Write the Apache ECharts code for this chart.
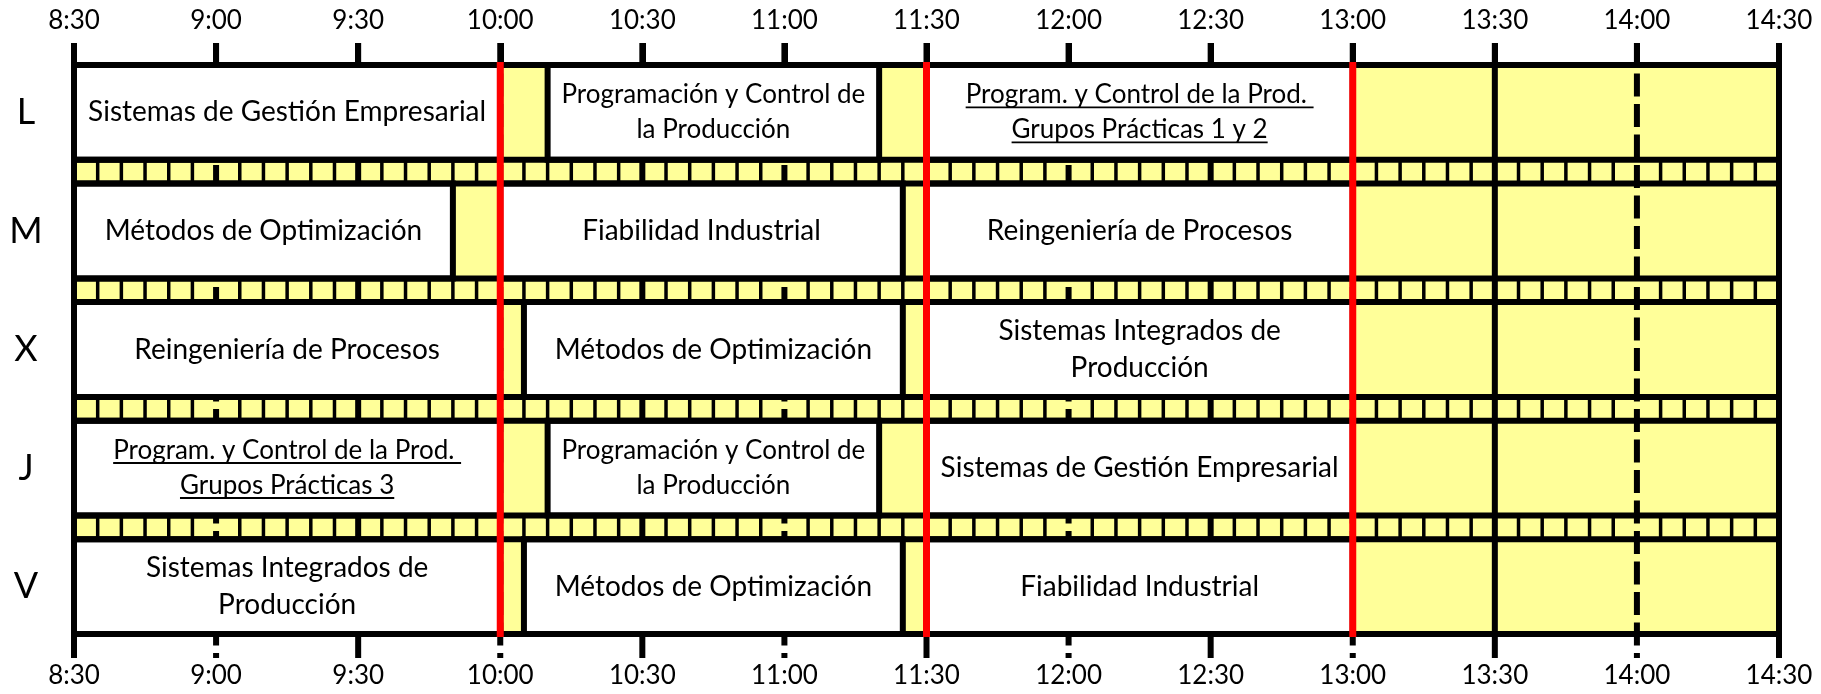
<!DOCTYPE html>
<html>
<head>
<meta charset="utf-8">
<script src="https://cdn.jsdelivr.net/npm/echarts@6/dist/echarts.min.js"></script>
<style>
html,body{margin:0;padding:0;background:#fff;}
#chart{width:1821px;height:694px;}
</style>
</head>
<body>
<div id="chart"></div>
<script>
// ---------------- data ----------------
const days = ['L', 'M', 'X', 'J', 'V'];
const tickLabels = ['8:30','9:00','9:30','10:00','10:30','11:00','11:30','12:00','12:30','13:00','13:30','14:00','14:30'];
const breakTimes = ['10:00', '11:30', '13:00'];
const slotMinutes = 5;

const courseDay   = ['L','L','L', 'M','M','M', 'X','X','X', 'J','J','J', 'V','V','V'];
const courseStart = ['8:30','10:10','11:30', '8:30','10:00','11:30', '8:30','10:05','11:30', '8:30','10:10','11:30', '8:30','10:05','11:30'];
const courseEnd   = ['10:00','11:20','13:00', '9:50','11:25','13:00', '10:00','11:25','13:00', '10:00','11:20','13:00', '10:00','11:25','13:00'];
const courseTitle = [
  'Sistemas de Gestión Empresarial',
  'Programación y Control de\nla Producción',
  'Program. y Control de la Prod. \nGrupos Prácticas 1 y 2',
  'Métodos de Optimización',
  'Fiabilidad Industrial',
  'Reingeniería de Procesos',
  'Reingeniería de Procesos',
  'Métodos de Optimización',
  'Sistemas Integrados de\nProducción',
  'Program. y Control de la Prod. \nGrupos Prácticas 3',
  'Programación y Control de\nla Producción',
  'Sistemas de Gestión Empresarial',
  'Sistemas Integrados de\nProducción',
  'Métodos de Optimización',
  'Fiabilidad Industrial'
];
const courseUnderlined = [false,false,true, false,false,false, false,false,false, true,false,false, false,false,false];

// ---------------- helpers / layout ----------------
const toMin = s => { const p = s.split(':'); return (+p[0]) * 60 + (+p[1]); };
const xMin = toMin(tickLabels[0]);
const xMax = toMin(tickLabels[tickLabels.length - 1]);
const tickStep = toMin(tickLabels[1]) - xMin;
const ROW_U = 4, GAP_U = 1, PITCH = ROW_U + GAP_U;
const yMax = days.length * PITCH - GAP_U;
const rowCenters = days.map((d, i) => i * PITCH + ROW_U / 2);

const FONT = 'Lato';
const TXT_BIG = 28, TXT_SMALL = 26;
const LW = 6;
const YELLOW = '#ffff99';
const measureCtx = document.createElement('canvas').getContext('2d');
function textWidth(t, size) { measureCtx.font = size + 'px ' + FONT; return measureCtx.measureText(t).width; }
function courseFont(i) {
  return (courseUnderlined[i] || courseTitle[i].indexOf('Programación') === 0) ? TXT_SMALL : TXT_BIG;
}

const chart = echarts.init(document.getElementById('chart'), null, {renderer: 'canvas'});

function lineEl(x1, y1, x2, y2, style) {
  return {type: 'line', shape: {x1, y1, x2, y2}, style: Object.assign({stroke: '#000', lineWidth: LW, lineCap: 'butt'}, style || {})};
}

const courseData = courseTitle.map((t, i) => [toMin(courseStart[i]), toMin(courseEnd[i]), days.indexOf(courseDay[i])]);
const gridData = tickLabels.map((t, i) => [toMin(t), i % 2]);
const bandData = days.slice(0, -1).map((d, i) => [i]);
const breakData = breakTimes.map(t => [toMin(t)]);

const option = {
  backgroundColor: '#fff',
  animation: false,
  grid: {left: 74, right: 42, top: 65, bottom: 60, containLabel: false, outerBoundsMode: 'none'},
  xAxis: [
    {
      type: 'value', position: 'top', min: xMin, max: xMax, interval: tickStep,
      axisLine: {show: false}, splitLine: {show: false},
      axisTick: {show: true, length: 22, lineStyle: {color: '#000', width: LW}},
      axisLabel: {
        formatter: v => tickLabels[Math.round((v - xMin) / tickStep)],
        fontFamily: FONT, fontSize: 26, color: '#000', margin: 44, verticalAlign: 'middle'
      }
    },
    {
      type: 'value', position: 'bottom', min: xMin, max: xMax, interval: tickStep,
      axisLine: {show: false}, splitLine: {show: false}, axisTick: {show: false},
      axisLabel: {
        formatter: v => tickLabels[Math.round((v - xMin) / tickStep)],
        fontFamily: FONT, fontSize: 26, color: '#000', margin: 42, verticalAlign: 'middle'
      }
    }
  ],
  yAxis: {
    type: 'value', min: 0, max: yMax, inverse: true,
    axisLine: {show: false}, axisTick: {show: false}, splitLine: {show: false},
    axisLabel: {
      customValues: rowCenters,
      formatter: v => days[Math.round((v - ROW_U / 2) / PITCH)],
      fontFamily: FONT, fontSize: 36, color: '#000', margin: 48, align: 'center', verticalAlign: 'middle'
    }
  },
  series: [
    { // yellow background
      type: 'custom', z: 1, clip: false, data: [[0]],
      renderItem: (params, api) => {
        const a = api.coord([xMin, 0]), b = api.coord([xMax, yMax]);
        return {type: 'rect', shape: {x: a[0], y: a[1], width: b[0] - a[0], height: b[1] - a[1]}, style: {fill: YELLOW}};
      }
    },
    { // 5-minute separators in the bands between days
      type: 'custom', z: 2, clip: false, data: bandData,
      renderItem: (params, api) => {
        const b = api.value(0);
        const y0 = b * PITCH + ROW_U, y1 = y0 + GAP_U;
        const children = [];
        for (let m = xMin + slotMinutes; m < xMax; m += slotMinutes) {
          if ((m - xMin) % tickStep === 0) continue;
          const p = api.coord([m, y0]), q = api.coord([m, y1]);
          children.push(lineEl(p[0], p[1], q[0], q[1], {lineWidth: 3.5}));
        }
        return {type: 'group', children};
      }
    },
    { // half-hour (solid) and hour (dashed) lines
      type: 'custom', z: 3, clip: false, data: gridData,
      renderItem: (params, api) => {
        const x = api.value(0), dashed = api.value(1) === 1;
        const p = api.coord([x, 0]), q = api.coord([x, yMax]);
        const st = dashed ? {lineDash: [23, 7.5]} : {};
        return lineEl(p[0], p[1] - 22, q[0], q[1] + 24, st);
      }
    },
    { // courses
      type: 'custom', z: 4, clip: false, data: courseData,
      renderItem: (params, api) => {
        const i = params.dataIndex;
        const s = api.value(0), e = api.value(1), r = api.value(2);
        const a = api.coord([s, r * PITCH]), b = api.coord([e, r * PITCH + ROW_U]);
        const cx = (a[0] + b[0]) / 2, cy = (a[1] + b[1]) / 2;
        const fs = courseFont(i);
        const lh = Math.round(fs * 1.33);
        const children = [{
          type: 'rect', shape: {x: a[0], y: a[1], width: b[0] - a[0], height: b[1] - a[1]},
          style: {fill: '#fff', stroke: '#000', lineWidth: LW}
        }, {
          type: 'text',
          style: {
            text: courseTitle[i], x: cx, y: cy,
            align: 'center', verticalAlign: 'middle', textAlign: 'center', textVerticalAlign: 'middle',
            fontFamily: FONT, fontSize: fs, lineHeight: lh, fill: '#000'
          }
        }];
        if (courseUnderlined[i]) {
          const lines = courseTitle[i].split('\n');
          lines.forEach((ln, k) => {
            const lc = cy + (k - (lines.length - 1) / 2) * lh;
            const w = textWidth(ln, fs);
            const uy = lc + fs * 0.48;
            children.push(lineEl(cx - w / 2, uy, cx + w / 2, uy, {lineWidth: 1.8}));
          });
        }
        return {type: 'group', children};
      }
    },
    { // day row borders + outer frame
      type: 'custom', z: 5, clip: false, data: days.map((d, i) => [i]),
      renderItem: (params, api) => {
        const r = api.value(0);
        const children = [];
        [r * PITCH, r * PITCH + ROW_U].forEach(y => {
          const p = api.coord([xMin, y]), q = api.coord([xMax, y]);
          children.push(lineEl(p[0] - LW / 2, p[1], q[0] + LW / 2, q[1]));
        });
        [xMin, xMax].forEach(x => {
          const p = api.coord([x, r * PITCH]), q = api.coord([x, r * PITCH + ROW_U]);
          children.push(lineEl(p[0], p[1], q[0], q[1]));
        });
        return {type: 'group', children};
      }
    },
    { // red break lines
      type: 'custom', z: 6, clip: false, data: breakData,
      renderItem: (params, api) => {
        const x = api.value(0);
        const p = api.coord([x, 0]), q = api.coord([x, yMax]);
        return lineEl(p[0], p[1] - LW / 2, q[0], q[1] + LW / 2, {stroke: '#ff0000', lineWidth: 7});
      }
    }
  ]
};
chart.setOption(option);
</script>
</body>
</html>
